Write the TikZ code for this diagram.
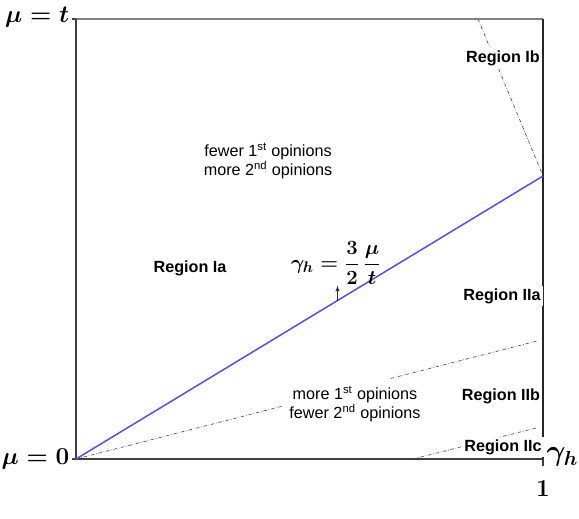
\documentclass[tikz,border=0pt]{standalone}
\usepackage{amsmath}
\usepackage{fontspec}
\setsansfont{Liberation Sans}
\usetikzlibrary{calc}
\definecolor{lineblue}{RGB}{85,85,225}
\begin{document}
\begin{tikzpicture}[x=0.025cm,y=-0.025cm,
  axis/.style={line width=1.1pt,black!75},
  region/.style={font=\sffamily\bfseries\fontsize{11.5}{13}\selectfont,fill=white,inner sep=1.5pt},
  remark/.style={font=\sffamily\fontsize{11.5}{12.5}\selectfont,align=center,fill=white,inner sep=5pt},
  boundary/.style={line width=0.45pt,black!70,dash pattern=on 2.5pt off 1.3pt on 0.4pt off 1.3pt},
  lab/.style={font=\fontsize{16.5}{18}\selectfont\boldmath,inner sep=1pt}]
  \useasboundingbox (0,0) rectangle (579,519);
  \coordinate (O) at (76,459);   % mu = 0, gamma = 0
  \coordinate (T) at (76,19);    % mu = t
  \coordinate (E) at (543,459);  % gamma = 1
  \coordinate (TE) at (543,19);
  \coordinate (B) at (543,176);  % end of the blue line
  % region boundaries
  \coordinate (b1) at (478,19);
  \coordinate (b2) at (537,341);
  \coordinate (b3s) at (413,459);
  \coordinate (b3e) at (536,428);
  \draw[boundary] (b1) -- (B);
  \draw[boundary] (O) -- (b2);
  \draw[boundary] (b3s) -- (b3e);
  % frame and axes
  \draw[line width=1pt,black!50] (T) -- (TE);
  \draw[line width=0.8pt,black!85] (TE) -- (E);
  \draw[axis] (T) -- (O) -- (E);
  \draw[axis] (T) -- ++(-4,0);
  \draw[axis] (O) -- ++(-4,0);
  \draw[axis] (E) -- ++(0,7);
  \node[lab,anchor=east] (mut) at (71,17) {$\mu=t$};
  \node[lab,anchor=east] (mu0) at (71,459) {$\mu=0$};
  \node[lab,font=\fontsize{18}{20}\selectfont\boldmath] (one) at (543,489) {$1$};
  \node[lab,anchor=west,font=\fontsize{20.5}{22}\selectfont\boldmath] (gam) at (545,457) {$\gamma_h$};
  % region labels
  \node[region] (Ib) at (503,58) {Region Ib};
  \node[region] (Ia) at (190,268) {Region Ia};
  \node[region] (IIa) at (502,296) {Region IIa};
  \node[region] (IIb) at (501,396) {Region IIb};
  \node[region] (IIc) at (503,447) {Region IIc};
  \node[remark] (few) at (268,161) {fewer 1\textsuperscript{st} opinions\\more 2\textsuperscript{nd} opinions};
  \node[remark] (more) at (355,404) {more 1\textsuperscript{st} opinions\\fewer 2\textsuperscript{nd} opinions};
  % the line gamma_h = 3mu/(2t)
  \draw[line width=1.1pt,lineblue] (O) -- (B);
  \node[font=\fontsize{15}{17}\selectfont\boldmath,inner sep=1pt] (eq) at (336,263) {$\gamma_h=\dfrac{3}{2}\,\dfrac{\mu}{t}$};
  \coordinate (foot) at ($(O)!0.56!(B)$);
  \draw[-latex,thin,black!80] (foot) -- ++(0,-15);
\end{tikzpicture}
\end{document}
